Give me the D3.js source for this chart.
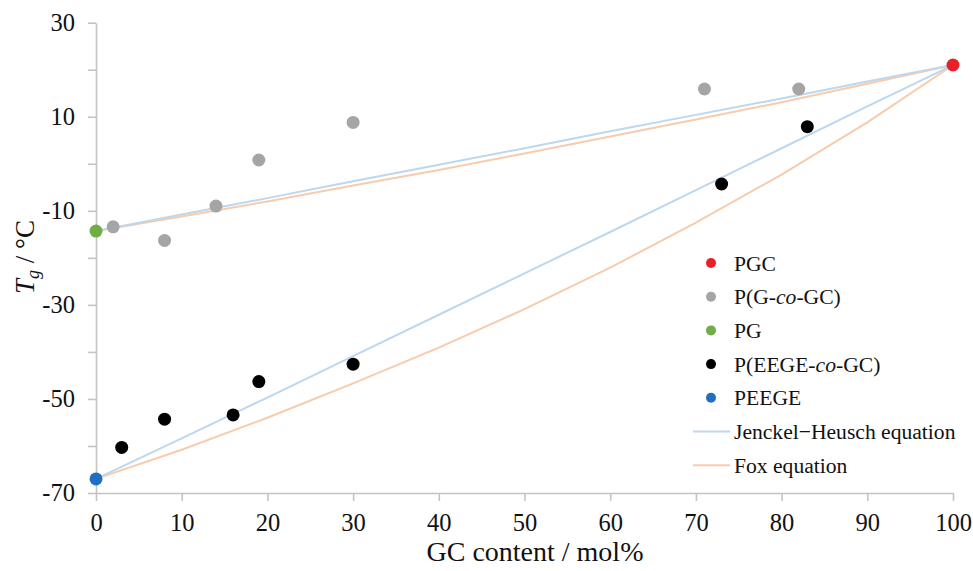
<!DOCTYPE html>
<html>
<head>
<meta charset="utf-8">
<script src="https://cdn.jsdelivr.net/npm/d3@7"></script>
<style>
  body { margin: 0; background: #fff; }
  svg text { font-family: "Liberation Serif", "Times New Roman", Times, "DejaVu Serif", serif !important; fill: #111; }
</style>
</head>
<body>
<script>
// measured points (GC content mol%, Tg in degC)
var pgcX = [100], pgcY = [21];
var gcoX = [2, 8, 14, 19, 30, 71, 82];
var gcoY = [-13.4, -16.3, -9.0, 0.8, 8.8, 15.9, 15.9];
var pgX = [0], pgY = [-14.3];
var eegeX = [3, 8, 16, 19, 30, 73, 83];
var eegeY = [-60.3, -54.3, -53.4, -46.3, -42.6, -4.3, 7.9];
var peegeX = [0], peegeY = [-67];

// curves
var curveX = [0, 10, 20, 30, 40, 50, 60, 70, 80, 90, 100];
var jhUpper = [-14.3, -10.8, -7.3, -3.7, -0.2, 3.3, 6.9, 10.4, 13.9, 17.5, 21];
var foxUpper = [-14.3, -11.2, -8.0, -4.6, -1.3, 2.2, 5.8, 9.4, 13.1, 17.0, 21];
var jhLower = [-67, -58.4, -49.7, -40.9, -32.1, -23.3, -14.5, -5.6, 3.3, 12.2, 21];
var foxLower = [-67, -60.8, -54.0, -46.7, -39.1, -30.9, -22.1, -12.5, -2.3, 8.8, 21];

var xTicks = [0, 10, 20, 30, 40, 50, 60, 70, 80, 90, 100];
var yTicks = [-70, -60, -50, -40, -30, -20, -10, 0, 10, 20, 30];

var W = 973, H = 571;
var svg = d3.select("body").append("svg")
    .attr("width", W)
    .attr("height", H);

var x = d3.scaleLinear().domain([0, 100]).range([96, 953]);
var y = d3.scaleLinear().domain([-70, 30]).range([493, 22.7]);

// axes
var gx = svg.append("g")
    .attr("transform", "translate(0," + y(-70) + ")")
    .call(d3.axisBottom(x).tickValues(xTicks).tickSize(8).tickSizeOuter(0).tickPadding(13));
var gy = svg.append("g")
    .attr("transform", "translate(" + x(0) + ",0)")
    .call(d3.axisLeft(y).tickValues(yTicks).tickSize(8).tickSizeOuter(0).tickPadding(13)
        .tickFormat(function (d) { return (d + 70) % 20 === 0 ? d : ""; }));

[gx, gy].forEach(function (g) {
    g.attr("font-family", null).attr("font-size", null);
    g.select(".domain").attr("stroke", "#c4c4c4").attr("stroke-width", 1.6);
    g.selectAll(".tick line").attr("stroke", "#c4c4c4").attr("stroke-width", 1.6);
    g.selectAll(".tick text")
        .style("font-size", "24.5px")
        .attr("fill", "#111");
});

// equation curves
var line = d3.line()
    .x(function (d) { return x(d[0]); })
    .y(function (d) { return y(d[1]); });
function drawCurve(vals, color) {
    svg.append("path")
        .datum(curveX.map(function (v, i) { return [v, vals[i]]; }))
        .attr("fill", "none")
        .attr("stroke", color)
        .attr("stroke-width", 2)
        .attr("d", line);
}
var jhColor = "#bdd7ee", foxColor = "#f8cbad";
drawCurve(foxUpper, foxColor);
drawCurve(jhUpper, jhColor);
drawCurve(foxLower, foxColor);
drawCurve(jhLower, jhColor);

// points
function drawDots(xs, ys, color) {
    svg.append("g").selectAll("circle")
        .data(xs.map(function (v, i) { return [v, ys[i]]; }))
        .enter().append("circle")
        .attr("cx", function (d) { return x(d[0]); })
        .attr("cy", function (d) { return y(d[1]); })
        .attr("r", 6.5)
        .attr("fill", color);
}
var cPGC = "#e8202a", cGco = "#a5a5a5", cPG = "#70ad47", cEEGE = "#000000", cPEEGE = "#1f70c1";
drawDots(gcoX, gcoY, cGco);
drawDots(eegeX, eegeY, cEEGE);
drawDots(pgX, pgY, cPG);
drawDots(peegeX, peegeY, cPEEGE);
drawDots(pgcX, pgcY, cPGC);

// axis titles
svg.append("text")
    .attr("x", 535)
    .attr("y", 561)
    .attr("text-anchor", "middle")
    .style("font-size", "28px")
    .text("GC content / mol%");

var yt = svg.append("text")
    .attr("transform", "translate(34,257) rotate(-90)")
    .attr("text-anchor", "middle")
    .style("font-size", "27px");
yt.append("tspan").style("font-style", "italic").text("T");
yt.append("tspan").style("font-style", "italic").style("font-size", "18px").attr("dy", 5).text("g");
yt.append("tspan").attr("dy", -5).text(" / °C");

// legend
var legend = [
    { type: "dot", color: cPGC, parts: [["PGC", false]] },
    { type: "dot", color: cGco, parts: [["P(G-", false], ["co", true], ["-GC)", false]] },
    { type: "dot", color: cPG, parts: [["PG", false]] },
    { type: "dot", color: cEEGE, parts: [["P(EEGE-", false], ["co", true], ["-GC)", false]] },
    { type: "dot", color: cPEEGE, parts: [["PEEGE", false]] },
    { type: "line", color: jhColor, parts: [["Jenckel\u2212Heusch equation", false]] },
    { type: "line", color: foxColor, parts: [["Fox equation", false]] }
];
var lg = svg.append("g");
legend.forEach(function (item, i) {
    var cy = 263 + i * 33.7;
    if (item.type === "dot") {
        lg.append("circle").attr("cx", 711).attr("cy", cy).attr("r", 5).attr("fill", item.color);
    } else {
        lg.append("line").attr("x1", 693).attr("x2", 730).attr("y1", cy).attr("y2", cy)
            .attr("stroke", item.color).attr("stroke-width", 2);
    }
    var t = lg.append("text").attr("x", 734).attr("y", cy).attr("dy", "0.35em")
        .style("font-size", "21.6px");
    item.parts.forEach(function (p) {
        t.append("tspan").style("font-style", p[1] ? "italic" : "normal").text(p[0]);
    });
});
</script>
</body>
</html>
